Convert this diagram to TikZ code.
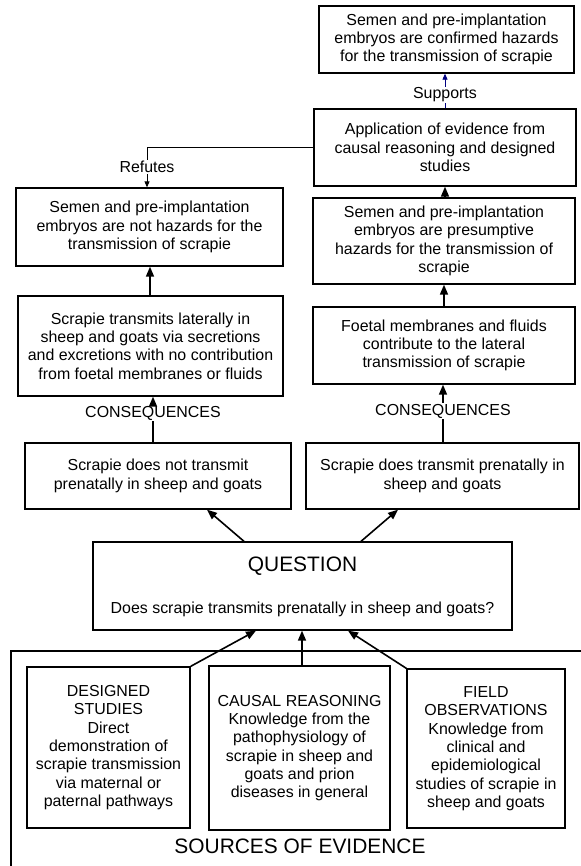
\documentclass[tikz,border=0pt]{standalone}
\usepackage{fontspec}
\setmainfont{Liberation Sans}
\usepackage{tikz}
\usetikzlibrary{arrows.meta,positioning,calc}
\definecolor{navy}{RGB}{0,0,128}
\tikzset
{
    evidbox/.style   = {rectangle, draw=black, line width=1.3bp, align=center, inner sep=0pt, font=\fontsize{16}{18.4}\selectfont},
    boxsize/.style 2 args = {minimum width=#1bp, minimum height=#2bp},
    linklabel/.style = {font=\fontsize{16}{18.4}\selectfont, inner sep=1bp},
    bigtitle/.style  = {font=\fontsize{21}{24}\selectfont, inner sep=0pt},
    mainarrow/.style = {line width=1.6bp, -{Triangle[length=10bp,width=8bp]}},
    thinline/.style  = {line width=0.8bp},
    thinarrow/.style = {line width=0.8bp, -{Triangle[length=6bp,width=5bp]}}
}

\begin{document}
\begin{tikzpicture}[x=1bp, y=-1bp]
    \useasboundingbox (0,0) rectangle (581,866);
    \clip (0,0) rectangle (581,866);

    \node [evidbox, boxsize={255}{67}] (confirmed) at (446.5,39.5) {Semen and pre-implantation\\embryos are confirmed hazards\\for the transmission of scrapie};
    \node [evidbox, boxsize={262}{77}] (application) at (445,147.5) {Application of evidence from\\causal reasoning and designed\\studies};
    \node [evidbox, boxsize={267}{78}] (nothazard) at (149.5,227) {Semen and pre-implantation\\embryos are not hazards for the\\transmission of scrapie};
    \node [evidbox, boxsize={262}{86}] (presumptive) at (444,241) {Semen and pre-implantation\\embryos are presumptive\\hazards for the transmission of\\scrapie};
    \node [evidbox, boxsize={265}{100}] (lateral) at (150.5,346) {Scrapie transmits laterally in\\sheep and goats via secretions\\and excretions with no contribution\\from foetal membranes or fluids};
    \node [evidbox, boxsize={262}{77}] (foetal) at (444,345.5) {Foetal membranes and fluids\\contribute to the lateral\\transmission of scrapie};
    \node [evidbox, boxsize={266}{66}] (notrans) at (158,476) {Scrapie does not transmit\\prenatally in sheep and goats};
    \node [evidbox, boxsize={273}{66}] (dotrans) at (442.5,476) {Scrapie does transmit prenatally in\\sheep and goats};
    \node [evidbox, boxsize={419}{88}] (question) at (302.5,586) {};
    \node [bigtitle] (qtitle) at ($(question.north)+(0,25)$) {QUESTION};
    \node [linklabel] (qtext) at ($(question.north)+(0,68)$) {Does scrapie transmits prenatally in sheep and goats?};

    \draw [line width=1.3bp] (11,651) rectangle (620,900);
    \node [evidbox, boxsize={163}{161}] (designed) at (108.5,747.5) {DESIGNED\\STUDIES\\Direct\\demonstration of\\scrapie transmission\\via maternal or\\paternal pathways};
    \node [evidbox, boxsize={181}{164}] (causal) at (299.5,748) {CAUSAL REASONING\\Knowledge from the\\pathophysiology of\\scrapie in sheep and\\goats and prion\\diseases in general};
    \node [evidbox, boxsize={158}{159}] (field) at (486,748.5) {FIELD\\OBSERVATIONS\\Knowledge from\\clinical and\\epidemiological\\studies of scrapie in\\sheep and goats};
    \node [bigtitle] (sources) at (300,846) {SOURCES OF EVIDENCE};

    \node [linklabel] (supports) at (445,95) {Supports};
    \node [linklabel] (refutes) at (147,167) {Refutes};
    \node [linklabel] (conleft) at (153,413) {CONSEQUENCES};
    \node [linklabel] (conright) at (443,411) {CONSEQUENCES};

    \draw [thinline, navy] (application.north -| supports) -- (supports.south);
    \draw [thinarrow, navy] (supports.north) -- (confirmed.south -| supports);
    \draw [thinline] (application.west) -| (refutes.north);
    \draw [thinarrow] (refutes.south) -- (nothazard.north -| refutes);

    \draw [mainarrow] (presumptive.north -| application) -- (application.south);
    \draw [mainarrow] (foetal.north) -- (presumptive.south -| foetal);
    \draw [mainarrow] (lateral.north -| 150,0) -- (nothazard.south -| 150,0);

    \draw [line width=1.6bp] (notrans.north -| conleft) -- (conleft.south);
    \draw [mainarrow] (conleft.north) -- (lateral.south -| conleft);
    \draw [line width=1.6bp] (dotrans.north -| conright) -- (conright.south);
    \draw [mainarrow] (conright.north) -- (foetal.south -| conright);

    \draw [mainarrow] ($(question.north)+(-58.5,0)$) -- ($(notrans.south)+(49,0)$);
    \draw [mainarrow] ($(question.north)+(58.5,0)$) -- ($(dotrans.south)+(-44.5,0)$);

    \draw [mainarrow] (designed.north east) -- ($(question.south)+(-46.5,0)$);
    \draw [mainarrow] (causal.north -| 302,0) -- (question.south -| 302,0);
    \draw [mainarrow] (field.north west) -- ($(question.south)+(45.5,0)$);
\end{tikzpicture}
\end{document}
